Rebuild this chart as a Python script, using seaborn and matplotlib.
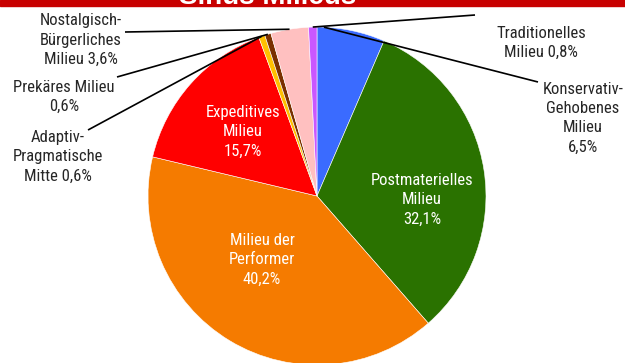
import numpy as np
import matplotlib
matplotlib.use("Agg")
import matplotlib.pyplot as plt
import seaborn as sns

# Sinus milieus, clockwise from 12 o'clock
milieus = [
    "Konservativ-Gehobenes Milieu",
    "Postmaterielles Milieu",
    "Milieu der Performer",
    "Expeditives Milieu",
    "Adaptiv-Pragmatische Mitte",
    "Prekäres Milieu",
    "Nostalgisch-Bürgerliches Milieu",
    "Traditionelles Milieu",
]
shares = [6.5, 32.1, 40.2, 15.7, 0.6, 0.6, 3.6, 0.8]
value_labels = ["6,5%", "32,1%", "40,2%", "15,7%", "0,6%", "0,6%", "3,6%", "0,8%"]
# label text as it is broken onto lines
label_texts = [
    "Konservativ-\nGehobenes\nMilieu\n6,5%",
    "Postmaterielles\nMilieu\n32,1%",
    "Milieu der\nPerformer\n40,2%",
    "Expeditives\nMilieu\n15,7%",
    "Adaptiv-\nPragmatische\nMitte 0,6%",
    "Prekäres Milieu\n0,6%",
    "Nostalgisch-\nBürgerliches\nMilieu 3,6%",
    "Traditionelles\nMilieu 0,8%",
]
title = "Sinus Milieus"

slice_colors = sns.color_palette(
    ["#3A6BFF", "#2A7200", "#F57B00", "#FF0000",
     "#FFC000", "#7A3000", "#FFC0C0", "#C957FF"]
)

sns.set_theme(style="white")
plt.rcParams["font.family"] = ["Roboto Condensed", "Liberation Sans", "DejaVu Sans"]

W, H = 625, 363
fig = plt.figure(figsize=(W / 100, H / 100), dpi=100)
ax = fig.add_axes([0, 0, 1, 1])


def Y(py):
    """pixel row measured from the top -> data y"""
    return H - py


cx, cy, R = 317, Y(196), 169
wedges, _ = ax.pie(
    shares, colors=slice_colors, startangle=90, counterclock=False,
    radius=R, center=(cx, cy),
    wedgeprops=dict(edgecolor="white", linewidth=0.4),
)
ax.set_xlim(0, W)
ax.set_ylim(0, H)
ax.set_aspect("auto")
ax.axis("off")

# header band with the (cropped) title
ax.add_patch(plt.Rectangle((0, Y(5.7)), W, 5.7, color="#C80000", zorder=5, clip_on=False))
ax.text(268, Y(4), title, ha="center", va="baseline", color="white",
        fontsize=20, fontweight="bold", family=["Liberation Sans", "DejaVu Sans"], zorder=6)

# label placement: (x, y from top, colour, leader end (x, y) or None, anchor fraction in wedge)
placement = [
    (583, 118, "#262626", (538, 82), 0.9),
    (422, 200, "white", None, 0.5),
    (262, 260, "white", None, 0.5),
    (243, 132, "white", None, 0.5),
    (58, 157, "#262626", (88, 130), 0.5),
    (64, 97, "#262626", (117, 77), 0.5),
    (81, 40, "#262626", (125, 32), 0.5),
    (541, 43, "#262626", (475, 15), 0.5),
]

for text, w, (lx, ly, col, lead, frac) in zip(label_texts, wedges, placement):
    ax.text(lx, Y(ly), text, ha="center", va="center", color=col,
            fontsize=12, linespacing=1.36, zorder=4)
    if lead is not None:
        ang = np.deg2rad(w.theta1 + frac * (w.theta2 - w.theta1))
        ex, ey = cx + R * np.cos(ang), cy + R * np.sin(ang)
        ax.plot([lead[0], ex], [Y(lead[1]), ey], color="black", lw=1.2,
                solid_capstyle="butt", zorder=3)

fig.savefig("out.png", dpi=100)
